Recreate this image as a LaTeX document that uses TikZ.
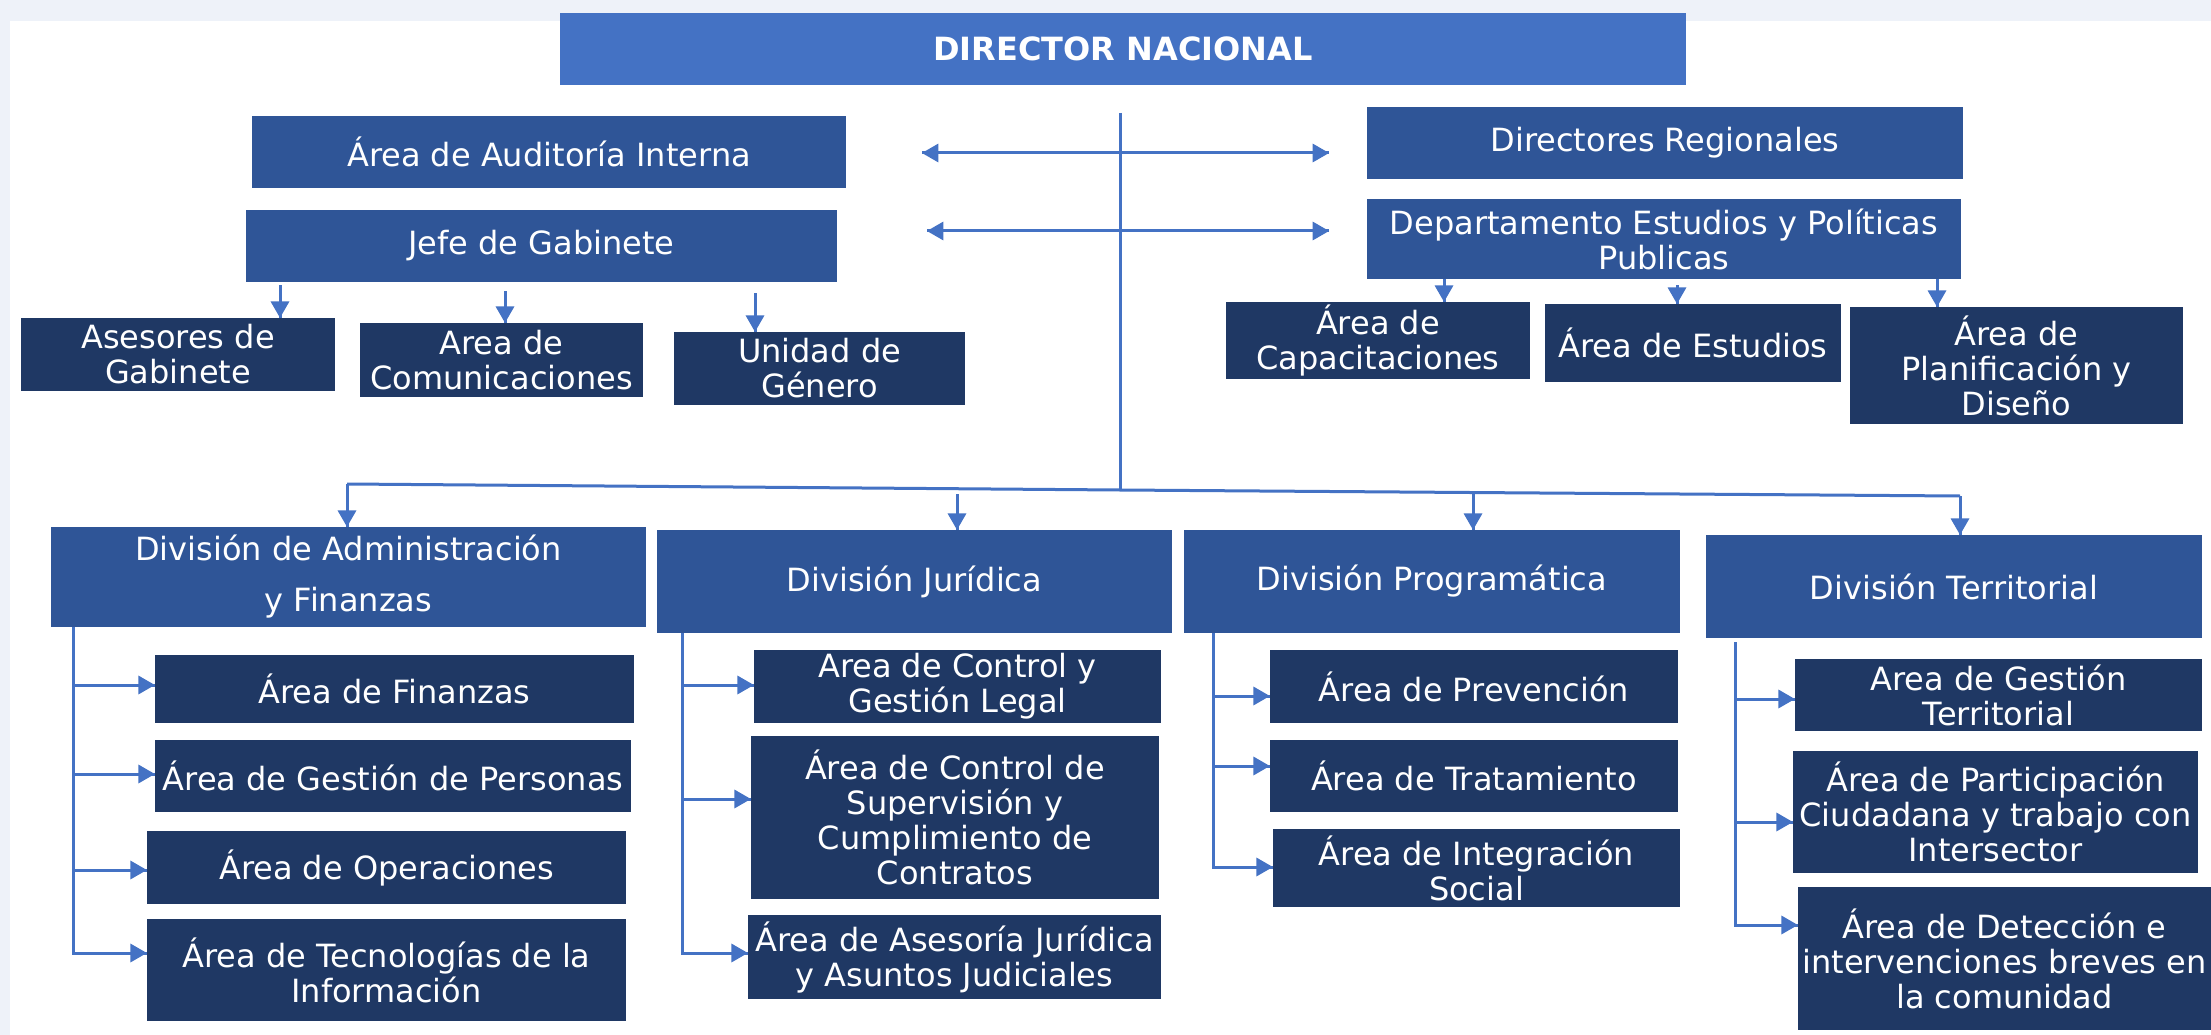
\documentclass[tikz,border=0pt]{standalone}
\usepackage{fontspec}
\setmainfont{DejaVu Sans}
\usetikzlibrary{arrows}
\usetikzlibrary{decorations.markings}
\definecolor{hblue}{HTML}{4472C4}
\definecolor{mblue}{HTML}{2F5597}
\definecolor{nblue}{HTML}{1F3864}
\definecolor{band}{HTML}{EEF2F9}
\tikzset{orgunit/.style = {text=white, align=center, inner sep=2pt,
                           font=\fontsize{32}{35}\selectfont}}
\tikzset{headunit/.style = {orgunit, fill=hblue, font=\fontsize{32}{35}\selectfont\bfseries}}
\tikzset{midunit/.style = {orgunit, fill=mblue}}
\tikzset{subunit/.style = {orgunit, fill=nblue}}
\tikzset{link/.style = {color=hblue, line width=3pt}}
\tikzset{arr/.style = {link, decoration={markings,
                                         mark=at position 1 with {\arrow[scale=1.15]{triangle 60}}},
                       postaction={decorate}}}
\tikzset{darr/.style = {link, decoration={markings,
                                          mark=at position 0 with {\arrowreversed[scale=1.15]{triangle 60}},
                                          mark=at position 1 with {\arrow[scale=1.15]{triangle 60}}},
                        postaction={decorate}}}

\begin{document}
\begin{tikzpicture}[x=1pt, y=-1pt]
    \useasboundingbox (0, 0) rectangle (2211, 1035);
    \fill [band] (0, 0) rectangle (2211, 1035);
    \fill [white] (10, 21) rectangle (2211, 1035);

    % top level
    \node [headunit, minimum width=1126pt, minimum height=72pt] (director) at (1123, 49) {DIRECTOR NACIONAL};

    \node [midunit, minimum width=594pt, minimum height=72pt] (auditoria) at (549, 152) {Área de Auditoría Interna};
    \node [midunit, minimum width=591pt, minimum height=72pt] (jefe) at (541.5, 246) {Jefe de Gabinete};
    \node [midunit, minimum width=596pt, minimum height=72pt] (regionales) at (1665, 143) {Directores Regionales};
    \node [midunit, minimum width=594pt, minimum height=80pt] (depto) at (1664, 239) {Departamento Estudios y Políticas\\Publicas};

    \node [subunit, minimum width=314pt, minimum height=73pt] (asesores) at (178, 354.5) {Asesores de\\Gabinete};
    \node [subunit, minimum width=283pt, minimum height=74pt] (comunic) at (501.5, 360) {Area de\\Comunicaciones};
    \node [subunit, minimum width=291pt, minimum height=73pt] (genero) at (819.5, 368.5) {Unidad de\\Género};

    \node [subunit, minimum width=304pt, minimum height=77pt] (capacit) at (1378, 340.5) {Área de\\Capacitaciones};
    \node [subunit, minimum width=296pt, minimum height=78pt] (estudios) at (1693, 343) {Área de Estudios};
    \node [subunit, minimum width=333pt, minimum height=117pt] (planif) at (2016.5, 365.5) {Área de\\Planificación y\\Diseño};

    % divisions
    \node [midunit, minimum width=595pt, minimum height=100pt, font=\fontsize{32}{51}\selectfont] (divadm) at (348.5, 577) {División de Administración\\y Finanzas};
    \node [midunit, minimum width=515pt, minimum height=103pt] (divjur) at (914.5, 581.5) {División Jurídica};
    \node [midunit, minimum width=496pt, minimum height=103pt] (divprog) at (1432, 581.5) {División Programática};
    \node [midunit, minimum width=496pt, minimum height=103pt] (divterr) at (1954, 586.5) {División Territorial};

    \node [subunit, minimum width=479pt, minimum height=68pt] (finanzas) at (394.5, 689) {Área de Finanzas};
    \node [subunit, minimum width=476pt, minimum height=72pt] (personas) at (393, 776) {Área de Gestión de Personas};
    \node [subunit, minimum width=479pt, minimum height=73pt] (operac) at (386.5, 867.5) {Área de Operaciones};
    \node [subunit, minimum width=479pt, minimum height=102pt] (tecno) at (386.5, 970) {Área de Tecnologías de la\\Información};

    \node [subunit, minimum width=407pt, minimum height=73pt] (legal) at (957.5, 686.5) {Area de Control y\\Gestión Legal};
    \node [subunit, minimum width=408pt, minimum height=163pt] (superv) at (955, 817.5) {Área de Control de\\Supervisión y\\Cumplimiento de\\Contratos};
    \node [subunit, minimum width=413pt, minimum height=84pt] (asesoria) at (954.5, 957) {Área de Asesoría Jurídica\\y Asuntos Judiciales};

    \node [subunit, minimum width=408pt, minimum height=73pt] (prevencion) at (1474, 686.5) {Área de Prevención};
    \node [subunit, minimum width=408pt, minimum height=72pt] (tratam) at (1474, 776) {Área de Tratamiento};
    \node [subunit, minimum width=407pt, minimum height=78pt] (integr) at (1476.5, 868) {Área de Integración\\Social};

    \node [subunit, minimum width=407pt, minimum height=72pt] (gestterr) at (1998.5, 695) {Area de Gestión\\Territorial};
    \node [subunit, minimum width=405pt, minimum height=122pt] (particip) at (1995.5, 812) {Área de Participación\\Ciudadana y trabajo con\\Intersector};
    \node [subunit, minimum width=413pt, minimum height=143pt] (detecc) at (2004.5, 958.5) {Área de Detección e\\intervenciones breves en\\la comunidad};

    % trunk and bus
    \coordinate (trunktop) at (1120, 113);
    \coordinate (busmid) at (1120, 490);
    \coordinate (busleft) at (347, 484);
    \coordinate (busright) at (1960, 496);
    \draw [link] (trunktop) -- (busmid);
    \draw [link] (busleft) -- (busmid) -- (busright);

    \coordinate (audl) at (922, 153);
    \coordinate (audr) at (1329, 153);
    \coordinate (jefl) at (927, 231);
    \coordinate (jefr) at (1329, 231);
    \draw [darr] (audl) -- (audr);
    \draw [darr] (jefl) -- (jefr);

    % divisions from the bus
    \coordinate (dropjur) at (957, 494);
    \coordinate (dropprog) at (1473, 492);
    \draw [arr] (busleft) -- (divadm.north -| busleft);
    \draw [arr] (dropjur) -- (divjur.north -| dropjur);
    \draw [arr] (dropprog) -- (divprog.north -| dropprog);
    \draw [arr] (busright) -- (divterr.north -| busright);

    % jefe de gabinete
    \coordinate (jefe1) at (280, 285);
    \coordinate (jefe2) at (505, 291);
    \coordinate (jefe3) at (755, 293);
    \draw [arr] (jefe1) -- (asesores.north -| jefe1);
    \draw [arr] (jefe2) -- (comunic.north -| jefe2);
    \draw [arr] (jefe3) -- (genero.north -| jefe3);

    % departamento
    \coordinate (depto1) at (1444, 279);
    \coordinate (depto2) at (1677, 285);
    \coordinate (depto3) at (1937, 279);
    \draw [arr] (depto1) -- (capacit.north -| depto1);
    \draw [arr] (depto2) -- (estudios.north -| depto2);
    \draw [arr] (depto3) -- (planif.north -| depto3);

    % administracion y finanzas
    \coordinate (adm1) at (73, 685);
    \coordinate (adm2) at (73, 774);
    \coordinate (adm3) at (73, 870);
    \coordinate (adm4) at (73, 953);
    \draw [arr] (divadm.south -| adm4) -- (adm4) -- (tecno.west |- adm4);
    \draw [arr] (adm1) -- (finanzas.west |- adm1);
    \draw [arr] (adm2) -- (personas.west |- adm2);
    \draw [arr] (adm3) -- (operac.west |- adm3);

    % juridica
    \coordinate (jur1) at (682, 685);
    \coordinate (jur2) at (682, 799);
    \coordinate (jur3) at (682, 953);
    \draw [arr] (divjur.south -| jur3) -- (jur3) -- (asesoria.west |- jur3);
    \draw [arr] (jur1) -- (legal.west |- jur1);
    \draw [arr] (jur2) -- (superv.west |- jur2);

    % programatica
    \coordinate (prog1) at (1213, 696);
    \coordinate (prog2) at (1213, 766);
    \coordinate (prog3) at (1213, 867);
    \draw [arr] (divprog.south -| prog3) -- (prog3) -- (integr.west |- prog3);
    \draw [arr] (prog1) -- (prevencion.west |- prog1);
    \draw [arr] (prog2) -- (tratam.west |- prog2);

    % territorial
    \coordinate (terr0) at (1735, 642);
    \coordinate (terr1) at (1735, 699);
    \coordinate (terr2) at (1735, 822);
    \coordinate (terr3) at (1735, 925);
    \draw [arr] (terr0) -- (terr3) -- (detecc.west |- terr3);
    \draw [arr] (terr1) -- (gestterr.west |- terr1);
    \draw [arr] (terr2) -- (particip.west |- terr2);
\end{tikzpicture}
\end{document}
